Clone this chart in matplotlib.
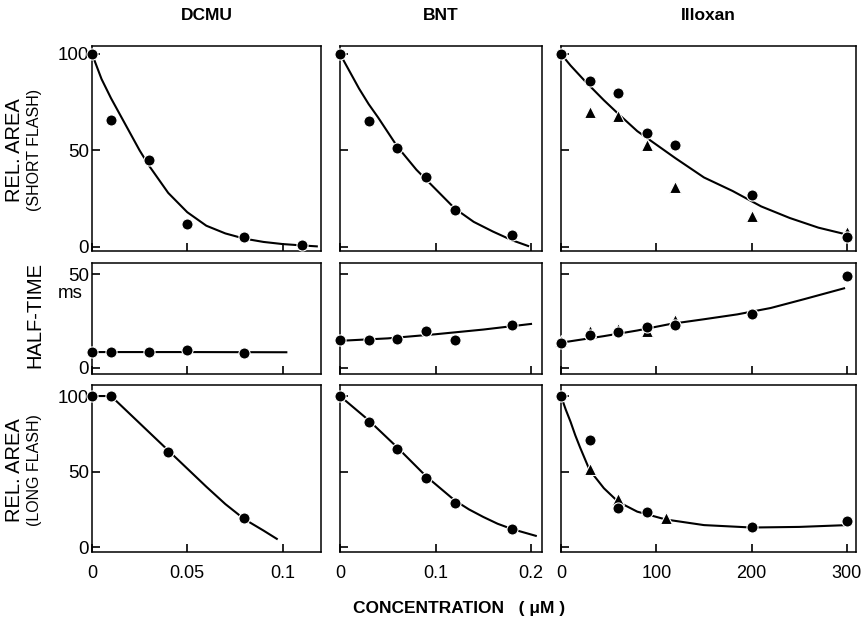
import matplotlib
matplotlib.use("Agg")
import matplotlib.pyplot as plt

plt.rcParams.update({
    "font.family": ["Liberation Sans", "DejaVu Sans"],
    "axes.linewidth": 1.1,
    "xtick.direction": "in", "ytick.direction": "in",
    "xtick.major.size": 6, "ytick.major.size": 6,
    "xtick.major.width": 1.2, "ytick.major.width": 1.2,
    "xtick.labelsize": 13, "ytick.labelsize": 13.5,
})

# ---- DCMU (uM) ----
dcmu_short_x = [0, 0.01, 0.03, 0.05, 0.08, 0.11]
dcmu_short_y = [100, 66, 45, 12, 5, 1]
dcmu_short_fit_x = [0, 0.005, 0.01, 0.015, 0.02, 0.025, 0.03, 0.035, 0.04, 0.05, 0.06, 0.07,
                    0.08, 0.09, 0.10, 0.11, 0.118]
dcmu_short_fit_y = [100, 87, 77, 68, 59, 50, 42, 35, 28, 18, 11, 7, 4.3, 2.6, 1.5, 0.8, 0.3]

dcmu_half_x = [0, 0.01, 0.03, 0.05, 0.08]
dcmu_half_y = [8.5, 8.5, 8.5, 9.5, 8.2]
dcmu_half_fit_x = [0, 0.05, 0.102]
dcmu_half_fit_y = [8.5, 8.5, 8.4]

dcmu_long_x = [0, 0.01, 0.04, 0.08]
dcmu_long_y = [100, 100, 63, 19]
dcmu_long_fit_x = [0, 0.01, 0.02, 0.03, 0.04, 0.05, 0.06, 0.07, 0.08, 0.09, 0.097]
dcmu_long_fit_y = [100, 100, 88, 76, 64, 52, 40, 28.5, 18.5, 11, 5.5]

# ---- BNT (uM) ----
bnt_short_x = [0, 0.03, 0.06, 0.09, 0.12, 0.18]
bnt_short_y = [100, 65, 51, 36, 19, 6]
bnt_short_fit_x = [0, 0.01, 0.02, 0.03, 0.04, 0.06, 0.08, 0.10, 0.12, 0.14, 0.16, 0.18, 0.197]
bnt_short_fit_y = [100, 91, 82, 74, 67, 52, 40, 30, 20, 13, 8, 3.5, 0.5]

bnt_half_x = [0, 0.03, 0.06, 0.09, 0.12, 0.18]
bnt_half_y = [14.7, 14.7, 15.6, 19.7, 15.2, 22.7]
bnt_half_fit_x = [0, 0.05, 0.10, 0.15, 0.20]
bnt_half_fit_y = [14.5, 15.8, 18, 20.5, 23.5]

bnt_long_x = [0, 0.03, 0.06, 0.09, 0.12, 0.18]
bnt_long_y = [100, 83, 65, 46, 29, 12]
bnt_long_fit_x = [0, 0.03, 0.06, 0.09, 0.12, 0.135, 0.15, 0.165, 0.18, 0.205]
bnt_long_fit_y = [100, 84, 66, 47, 31, 25, 20, 15.5, 12, 7.5]

# ---- Illoxan (uM): circles and triangles ----
ill_short_cx = [0, 30, 60, 90, 120, 200, 300]
ill_short_cy = [100, 86, 80, 59, 53, 27, 5]
ill_short_tx = [30, 60, 90, 120, 200, 300]
ill_short_ty = [70, 68, 53, 31, 16, 8]
ill_short_fit_x = [0, 10, 25, 45, 60, 80, 100, 120, 150, 180, 210, 240, 270, 295]
ill_short_fit_y = [100, 94, 86, 76, 69, 60, 53, 46, 36, 29, 21, 15, 10, 7]

ill_half_cx = [0, 30, 60, 90, 120, 200, 300]
ill_half_cy = [13.5, 17.5, 19, 22, 23, 28.9, 49]
ill_half_tx = [0, 30, 60, 90, 120]
ill_half_ty = [14.5, 19.5, 21, 20, 25.5]
ill_half_fit_x = [0, 45, 80, 115, 150, 185, 220, 255, 297]
ill_half_fit_y = [13.5, 17, 20, 23.5, 26, 28.6, 32, 36.7, 42.5]

ill_long_cx = [0, 30, 60, 90, 200, 300]
ill_long_cy = [100, 71, 26, 23, 13.5, 17.5]
ill_long_tx = [30, 60, 110]
ill_long_ty = [52, 32, 19.5]
ill_long_fit_x = [0, 5, 10, 15, 20, 30, 45, 60, 80, 110, 150, 200, 250, 300]
ill_long_fit_y = [100, 91, 83, 74, 66, 51, 39, 30, 23.5, 18.3, 14.6, 13, 13.4, 14.6]

titles = ["DCMU", "BNT", "Illoxan"]
xlims = [(0, 0.1202), (0, 0.2115), (0, 309.5)]
xticks = [[0, 0.05, 0.1], [0, 0.1, 0.2], [0, 100, 200, 300]]
xticklabels = [["0", "0.05", "0.1"], ["0", "0.1", "0.2"], ["0", "100", "200", "300"]]

W, H = 866, 626
fig = plt.figure(figsize=(W / 100, H / 100), dpi=100)

cols = [(92, 321), (340, 542), (561, 856)]
rows = [(46, 251), (263, 374), (385, 552)]
ylims = [(-2.1, 104.1), (-3.2, 56), (-3.2, 107.3)]
yticks = [[0, 50, 100], [0, 50], [0, 50, 100]]

axes = [[None] * 3 for _ in range(3)]
for r, (t, b) in enumerate(rows):
    for c, (l, rr) in enumerate(cols):
        ax = fig.add_axes([l / W, 1 - b / H, (rr - l) / W, (b - t) / H])
        ax.set_xlim(*xlims[c])
        ax.set_ylim(*ylims[r])
        ax.set_xticks(xticks[c])
        ax.set_yticks(yticks[r])
        ax.tick_params(axis="y", pad=2)
        ax.tick_params(axis="x", pad=9)
        if r == 2:
            ax.set_xticklabels(xticklabels[c])
        else:
            ax.set_xticklabels([])
        if c != 0:
            ax.set_yticklabels([])
        axes[r][c] = ax

line_kw = dict(color="black", lw=1.5, zorder=2)
circ_kw = dict(ls="none", marker="o", ms=8, mfc="black", mec="white",
               mew=0.8, clip_on=False, zorder=3)
tri_kw = dict(ls="none", marker="^", ms=8.5, mfc="black", mec="white",
              mew=0.8, clip_on=False, zorder=3)

panels = [
    [(dcmu_short_fit_x, dcmu_short_fit_y, dcmu_short_x, dcmu_short_y, None, None),
     (bnt_short_fit_x, bnt_short_fit_y, bnt_short_x, bnt_short_y, None, None),
     (ill_short_fit_x, ill_short_fit_y, ill_short_cx, ill_short_cy, ill_short_tx, ill_short_ty)],
    [(dcmu_half_fit_x, dcmu_half_fit_y, dcmu_half_x, dcmu_half_y, None, None),
     (bnt_half_fit_x, bnt_half_fit_y, bnt_half_x, bnt_half_y, None, None),
     (ill_half_fit_x, ill_half_fit_y, ill_half_cx, ill_half_cy, ill_half_tx, ill_half_ty)],
    [(dcmu_long_fit_x, dcmu_long_fit_y, dcmu_long_x, dcmu_long_y, None, None),
     (bnt_long_fit_x, bnt_long_fit_y, bnt_long_x, bnt_long_y, None, None),
     (ill_long_fit_x, ill_long_fit_y, ill_long_cx, ill_long_cy, ill_long_tx, ill_long_ty)],
]

for r in range(3):
    for c in range(3):
        fx, fy, cx, cy, tx, ty = panels[r][c]
        ax = axes[r][c]
        ax.plot(fx, fy, **line_kw)
        if tx is not None:
            ax.plot(tx, ty, **tri_kw)
        ax.plot(cx, cy, **circ_kw)

# column titles
for c, (l, rr) in enumerate(cols):
    fig.text((l + rr) / 2 / W, 1 - 15 / H, titles[c], ha="center", va="center",
             fontsize=12.5, fontweight="bold")

# row labels
fig.text(15 / W, 1 - 150 / H, "REL. AREA", rotation=90, ha="center", va="center", fontsize=14.5)
fig.text(34.5 / W, 1 - 150 / H, "(SHORT FLASH)", rotation=90, ha="center", va="center", fontsize=11.5)
fig.text(35 / W, 1 - 315 / H, "HALF-TIME", rotation=90, ha="center", va="center", fontsize=14.5)
fig.text(70 / W, 1 - 294 / H, "ms", ha="center", va="center", fontsize=13.5)
fig.text(15 / W, 1 - 470 / H, "REL. AREA", rotation=90, ha="center", va="center", fontsize=14.5)
fig.text(34.5 / W, 1 - 470 / H, "(LONG FLASH)", rotation=90, ha="center", va="center", fontsize=11.5)

fig.text(353 / W, 1 - 608 / H, "CONCENTRATION   ( \u03bcM )", ha="left", va="center",
         fontsize=12.5, fontweight="bold")

fig.savefig("out.png", dpi=100)
